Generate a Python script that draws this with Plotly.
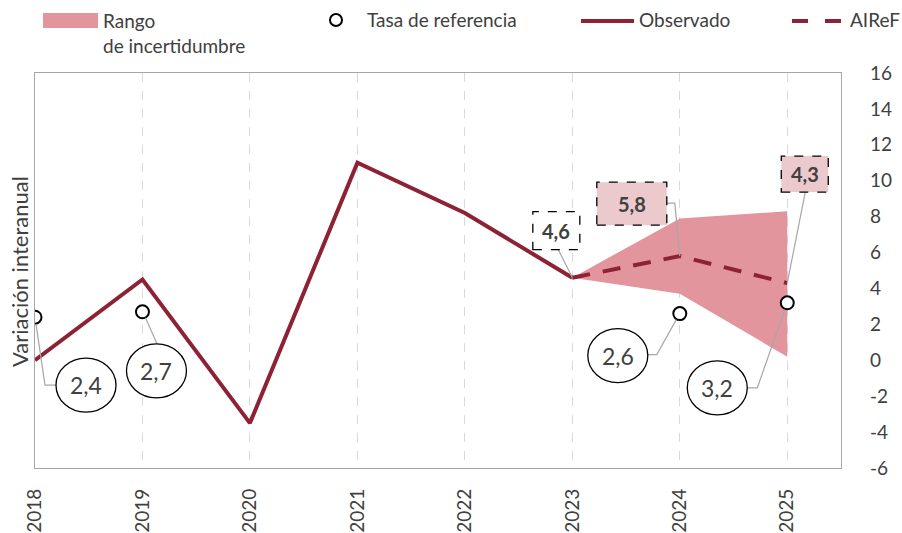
import plotly.graph_objects as go

years = [2018, 2019, 2020, 2021, 2022, 2023, 2024, 2025]
obs_years = [2018, 2019, 2020, 2021, 2022, 2023]
observado = [0.0, 4.5, -3.5, 11.0, 8.2, 4.6]
airef_years = [2023, 2024, 2025]
airef = [4.6, 5.8, 4.3]
rango_sup = [4.6, 7.9, 8.3]
rango_inf = [4.6, 3.7, 0.2]
ref_years = [2018, 2019, 2024, 2025]
tasa_ref = [2.4, 2.7, 2.6, 3.2]
ytick_vals = list(range(-6, 17, 2))
ytick_text = [str(v) for v in ytick_vals]

RED = "#8c2234"
PINK = "#e3959e"
LIGHTPINK = "#ecc9cc"
GRAY = "#a6a6a6"
TXT = "#404040"
FONT = "Lato"

L, R, T, B = 35, 61, 73, 65
W, H = 902, 533
PW, PH = W - L - R, H - T - B


def px(x):
    return (x - L) / PW


def py(y):
    return (H - B - y) / PH


fig = go.Figure()

fig.add_trace(go.Scatter(
    x=airef_years + airef_years[::-1], y=rango_sup + rango_inf[::-1],
    fill="toself", fillcolor=PINK, line=dict(width=0), mode="lines",
    hoverinfo="skip", showlegend=False))
fig.add_trace(go.Scatter(x=obs_years, y=observado, mode="lines",
                         line=dict(color=RED, width=4), showlegend=False))
fig.add_trace(go.Scatter(x=airef_years, y=airef, mode="lines",
                         line=dict(color=RED, width=4, dash="18px,13px"),
                         showlegend=False))
fig.add_trace(go.Scatter(x=ref_years, y=tasa_ref, mode="markers",
                         marker=dict(symbol="circle", size=13, color="white",
                                     line=dict(color="black", width=2)),
                         showlegend=False))

shapes = []
annotations = []


def leader(xv, yv, path):
    shapes.append(dict(type="path", xref="x", yref="y", xsizemode="pixel",
                       ysizemode="pixel", xanchor=xv, yanchor=yv, path=path,
                       line=dict(color=GRAY, width=1.2), layer="above"))


# ellipse labels for reference rate
ell = [
    (2018, tasa_ref[0], 51, -68, "M 1 -7 L 10 -68 L 21 -68"),
    (2019, tasa_ref[1], 14, -59, "M 3 -6 L 14.5 -32"),
    (2024, tasa_ref[2], -62, -42, "M -3.5 -6 L -23 -41 L -32 -41"),
    (2025, tasa_ref[3], -70, -85, "M -2.4 -6.6 L -30 -85 L -40 -85"),
]
for (xv, yv, dx, dy, path) in ell:
    leader(xv, yv, path)
    shapes.append(dict(type="circle", xref="x", yref="y", xsizemode="pixel",
                       ysizemode="pixel", xanchor=xv, yanchor=yv,
                       x0=dx - 30, x1=dx + 30, y0=dy - 27, y1=dy + 27,
                       fillcolor="white", line=dict(color="black", width=1.3),
                       layer="above"))
    annotations.append(dict(x=xv, y=yv, xref="x", yref="y", xshift=dx, yshift=dy,
                            text=f"{yv:.1f}".replace(".", ","), showarrow=False,
                            font=dict(family=FONT, size=23, color=TXT)))

# dashed boxes for AIReF values
boxes = [
    (2023, airef[0], -39.5, 7.5, 28, 66, "white", "M 0 0 L -14 28"),
    (2024, airef[1], -83, -13, 31, 74, LIGHTPINK, "M 0 0 L -5 53 L -13 53"),
    (2025, airef[2], -6, 41, 91, 127, LIGHTPINK, "M 0 0 L 18 91"),
]
for (xv, yv, x0, x1, y0, y1, fc, path) in boxes:
    leader(xv, yv, path)
    shapes.append(dict(type="rect", xref="x", yref="y", xsizemode="pixel",
                       ysizemode="pixel", xanchor=xv, yanchor=yv,
                       x0=x0, x1=x1, y0=y0, y1=y1, fillcolor=fc,
                       line=dict(color="black", width=1.3, dash="dash"),
                       layer="above"))
    annotations.append(dict(x=xv, y=yv, xref="x", yref="y",
                            xshift=(x0 + x1) / 2, yshift=(y0 + y1) / 2,
                            text=f"<b>{yv:.1f}</b>".replace(".", ","),
                            showarrow=False,
                            font=dict(family=FONT, size=20, color=TXT)))

# manual legend
LEG = 19
shapes.append(dict(type="rect", xref="paper", yref="paper",
                   x0=px(43), x1=px(98), y0=py(28), y1=py(13),
                   fillcolor=PINK, line=dict(width=0)))
annotations.append(dict(xref="paper", yref="paper", x=px(101), y=py(7),
                        xanchor="left", yanchor="top", align="left",
                        text="Rango<br>de incertidumbre", showarrow=False,
                        font=dict(family=FONT, size=LEG, color=TXT)))
shapes.append(dict(type="circle", xref="paper", yref="paper",
                   x0=px(330), x1=px(342), y0=py(26), y1=py(14),
                   fillcolor="white", line=dict(color="black", width=2)))
annotations.append(dict(xref="paper", yref="paper", x=px(365), y=py(20),
                        xanchor="left", yanchor="middle",
                        text="Tasa de referencia", showarrow=False,
                        font=dict(family=FONT, size=LEG, color=TXT)))
shapes.append(dict(type="line", xref="paper", yref="paper",
                   x0=px(581), x1=px(634), y0=py(21), y1=py(21),
                   line=dict(color=RED, width=4)))
annotations.append(dict(xref="paper", yref="paper", x=px(637), y=py(20),
                        xanchor="left", yanchor="middle",
                        text="Observado", showarrow=False,
                        font=dict(family=FONT, size=LEG, color=TXT)))
for a, b in [(792, 808), (825, 841)]:
    shapes.append(dict(type="line", xref="paper", yref="paper",
                       x0=px(a), x1=px(b), y0=py(21), y1=py(21),
                       line=dict(color=RED, width=4)))
annotations.append(dict(xref="paper", yref="paper", x=px(848), y=py(20),
                        xanchor="left", yanchor="middle",
                        text="AIReF", showarrow=False,
                        font=dict(family=FONT, size=LEG, color=TXT)))

# y-axis title on the left
annotations.append(dict(xref="paper", yref="paper", x=px(19), y=py(272),
                        xanchor="center", yanchor="middle", textangle=-90,
                        text="Variación interanual", showarrow=False,
                        font=dict(family=FONT, size=22, color=TXT)))

fig.update_layout(
    width=W, height=H, margin=dict(l=L, r=R, t=T, b=B),
    paper_bgcolor="white", plot_bgcolor="white",
    font=dict(family=FONT, color=TXT, size=18),
    showlegend=False, shapes=shapes, annotations=annotations,
    xaxis=dict(range=[2018, 2025.5], tickvals=years,
               ticktext=[str(y) for y in years], tickangle=-90,
               automargin=False,
               showgrid=True, griddash="dash", gridcolor="#d9d9d9", gridwidth=1,
               showline=True, linecolor=GRAY, linewidth=1.3, mirror=True,
               zeroline=False, ticks="outside", ticklen=12,
               tickcolor="rgba(0,0,0,0)",
               tickfont=dict(family=FONT, size=19, color=TXT)),
    yaxis=dict(range=[-6, 16], tickvals=ytick_vals, ticktext=ytick_text,
               side="right", automargin=False,
               showgrid=False, zeroline=False, showline=True, linecolor=GRAY,
               linewidth=1.3, mirror=True, ticks="outside", ticklen=24,
               tickcolor="rgba(0,0,0,0)",
               tickfont=dict(family=FONT, size=19, color=TXT)),
)

fig.write_html("out.html", config={"displayModeBar": False},
               post_script="document.body.style.margin='0';document.body.style.padding='0';")
